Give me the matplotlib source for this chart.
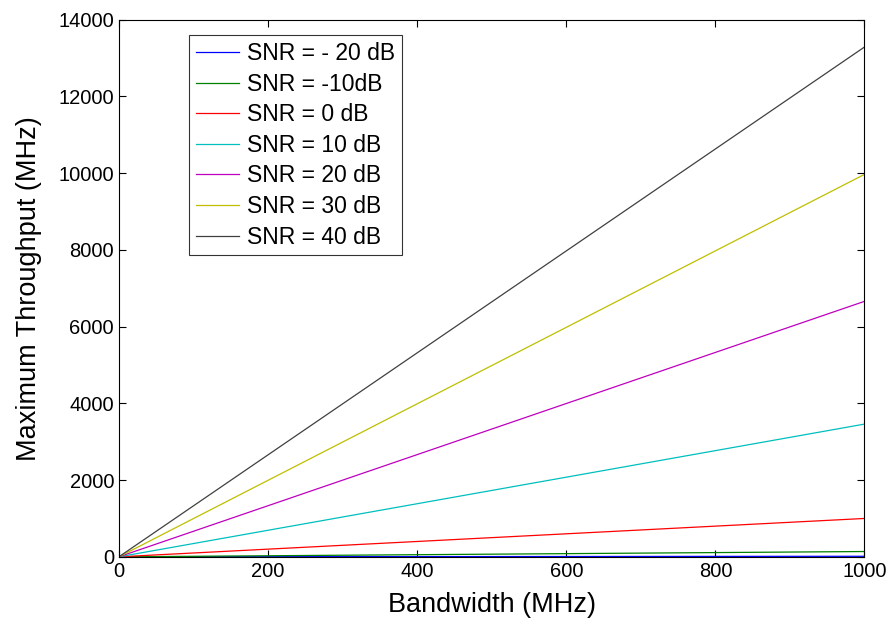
import matplotlib
matplotlib.use("Agg")
import matplotlib.pyplot as plt

plt.rcParams['font.family'] = ['Liberation Sans', 'DejaVu Sans']

# bandwidth end points (MHz), lines are straight from the origin
bandwidth = [0, 1000]

labels = ['SNR = - 20 dB', 'SNR = -10dB', 'SNR = 0 dB', 'SNR = 10 dB',
          'SNR = 20 dB', 'SNR = 30 dB', 'SNR = 40 dB']
throughput_end = [14, 138, 1000, 3460, 6660, 9970, 13290]
colors = ['#0000ff', '#008000', '#ff0000', '#00bfbf', '#bf00bf', '#bfbf00', '#404040']

fig = plt.figure(figsize=(8.94, 6.18), dpi=100)
ax = fig.add_axes([0.133, 0.099, 0.834, 0.869])

for lab, yend, c in zip(labels, throughput_end, colors):
    ax.plot(bandwidth, [0, yend], color=c, lw=0.9, label=lab)

ax.set_xlim(0, 1000)
ax.set_ylim(0, 14000)
ax.set_xticks(range(0, 1001, 200))
ax.set_yticks(range(0, 14001, 2000))
ax.tick_params(direction='in', top=True, right=True, labelsize=14.5, length=5, width=0.8)
for s in ax.spines.values():
    s.set_linewidth(0.8)

ax.set_xlabel('Bandwidth (MHz)', fontsize=19.5, labelpad=8)
ax.set_ylabel('Maximum Throughput (MHz)', fontsize=19.5, labelpad=12)

leg = ax.legend(loc='upper left', bbox_to_anchor=(0.094, 0.971), fontsize=16.5,
                frameon=True, fancybox=False, edgecolor='black',
                handlelength=1.9, handletextpad=0.35, labelspacing=0.33,
                borderpad=0.3, borderaxespad=0)
leg.get_frame().set_linewidth(0.8)

fig.savefig('out.png', dpi=100)
